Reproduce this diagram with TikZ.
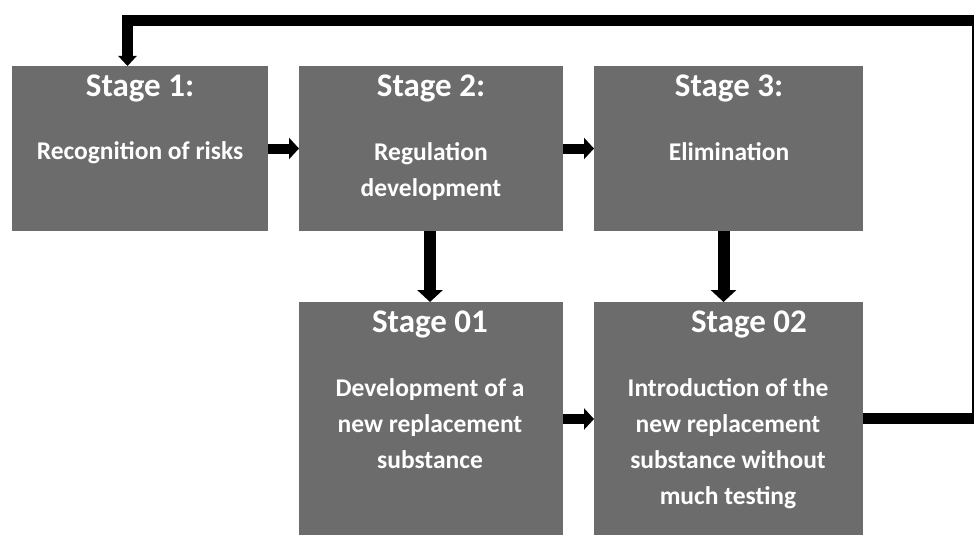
\documentclass[tikz,border=0pt]{standalone}
\usepackage{fontspec}
\setmainfont{Carlito}
\usetikzlibrary{arrows.meta,calc}
\definecolor{boxgray}{RGB}{108,108,108}
\begin{document}
\begin{tikzpicture}[x=1pt,y=-1pt,
  stagebox/.style={draw=none, fill=boxgray, inner sep=0pt, outer sep=0pt, anchor=north west},
  title/.style={text=white, font=\bfseries\fontsize{33}{36}\selectfont, anchor=base, inner sep=0pt},
  body/.style={text=white, font=\bfseries\fontsize{25.5}{36}\selectfont, anchor=base, align=center, inner sep=0pt},
  hflow/.style={line width=10pt, -{Triangle[length=10pt,width=21pt]}},
  vflow/.style={line width=12pt, -{Triangle[length=12pt,width=25pt]}},
  fback/.style={line width=11pt, line join=miter, -{Triangle[length=10pt,width=18pt]}}
]
\useasboundingbox (0,0) rectangle (974,535);
\clip (0,0) rectangle (974,535);
\fill[white] (0,0) rectangle (974,535);

% boxes
\node[stagebox, minimum width=256pt, minimum height=165pt] (s1) at (12,66) {};
\node[stagebox, minimum width=264pt, minimum height=165pt] (s2) at (299,66) {};
\node[stagebox, minimum width=269pt, minimum height=165pt] (s3) at (594,66) {};
\node[stagebox, minimum width=264pt, minimum height=240pt] (s01) at (299,302) {};
\node[stagebox, minimum width=269pt, minimum height=240pt] (s02) at (594,302) {};

% titles
\node[title] (t1) at (140,96) {Stage 1:};
\node[title] (t2) at (431,96) {Stage 2:};
\node[title] (t3) at (729,96) {Stage 3:};
\node[title] (t01) at (430,332) {Stage 01};
\node[title] (t02) at (749,332) {Stage 02};

% bodies (anchor = baseline of last line)
\node[body] (b1) at (140,159) {Recognition of risks};
\node[body] (b2) at (431,196) {Regulation\\development};
\node[body] (b3) at (729,160) {Elimination};
\node[body] (b01) at (430,468) {Development of a\\new replacement\\substance};
\node[body] (b02) at (728,504) {Introduction of the\\new replacement\\substance without\\much testing};

% connectors
\draw[hflow] (s1.east) -- (s2.west);
\draw[hflow] (s2.east) -- (s3.west);
\draw[hflow] ($(s01.north east)+(0,117)$) -- ($(s02.north west)+(0,117)$);
\draw[vflow] ($(s2.south)+(-1,0)$) -- ($(s01.north)+(-1,0)$);
\draw[vflow] ($(s3.south)+(-5,0)$) -- ($(s02.north)+(-5,0)$);

\coordinate (fa) at (977.5,418);
\coordinate (fb) at (977.5,21);
\coordinate (fc) at (127.5,21);
\draw[fback] ($(s02.north east)+(0,116)$) -- (fa) -- (fb) -- (fc) -- (fc |- s1.north);
\end{tikzpicture}
\end{document}
